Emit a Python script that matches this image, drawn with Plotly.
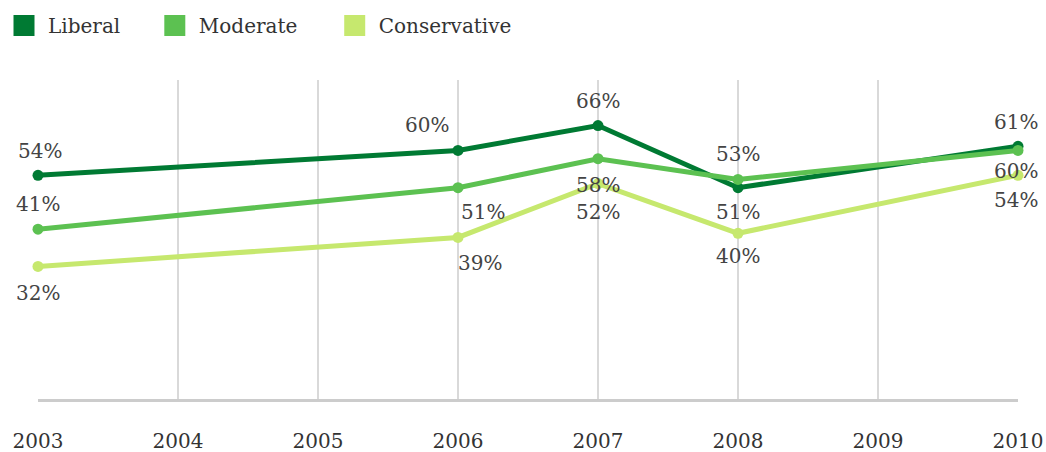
import plotly.graph_objects as go

years = [2003, 2006, 2007, 2008, 2010]
tick_years = [2003, 2004, 2005, 2006, 2007, 2008, 2009, 2010]
liberal = [54, 60, 66, 51, 61]
moderate = [41, 51, 58, 53, 60]
conservative = [32, 39, 52, 40, 54]

series = [
    ("Liberal", liberal, "#007a33"),
    ("Moderate", moderate, "#5cc151"),
    ("Conservative", conservative, "#c6e86e"),
]
# label placement (xshift, yshift) per point
label_shift = {
    "Liberal": [(2, 24), (-31, 25), (0, 25), (0, -24), (-2, 24)],
    "Moderate": [(0, 25), (25, -24), (0, -26), (0, 25), (-2, -21)],
    "Conservative": [(0, -27), (22, -26), (0, -28), (0, -23), (-2, -25)],
}
legend_x = [-4 / 1046, 0.148 - 4 / 1046, 0.320 - 4 / 1046]

FONT = "DejaVu Serif"
fig = go.Figure()
annotations = []
for name, vals, col in series:
    fig.add_trace(go.Scatter(
        x=years, y=vals, mode="lines+markers", name=name,
        line=dict(color=col, width=5), marker=dict(color=col, size=11),
        cliponaxis=False, showlegend=False,
    ))
    for (xv, yv, (dx, dy)) in zip(years, vals, label_shift[name]):
        annotations.append(dict(
            x=xv, y=yv, xref="x", yref="y", text=f"{yv}%", showarrow=False,
            xshift=dx, yshift=dy, font=dict(family=FONT, size=20, color="#444444"),
        ))
# legend entries as square swatches, one legend each
legend_layout = {}
for i, (name, vals, col) in enumerate(series):
    lname = "legend" if i == 0 else f"legend{i+1}"
    fig.add_trace(go.Scatter(
        x=[None], y=[None], mode="markers", name=name, legend=lname,
        marker=dict(color=col, size=16, symbol="square", line=dict(color=col, width=7)),
        showlegend=True,
    ))
    legend_layout[lname] = dict(
        orientation="h", x=legend_x[i], y=1.0 - 6 / 452, xref="container", yref="container",
        xanchor="left", yanchor="top", bgcolor="rgba(0,0,0,0)",
        font=dict(family=FONT, size=20, color="#333333"),
        itemsizing="trace", itemwidth=38,
    )

fig.update_layout(
    width=1046, height=452,
    margin=dict(l=38, r=28, t=80, b=53, autoexpand=False),
    paper_bgcolor="white", plot_bgcolor="white",
    font=dict(family=FONT, size=20, color="#333333"),
    annotations=annotations,
    xaxis=dict(range=[2003, 2010], tickvals=tick_years, ticktext=[str(t) for t in tick_years],
               showgrid=True, gridcolor="#d9d9d9", gridwidth=1.5,
               showline=True, linecolor="#cccccc", linewidth=3,
               zeroline=False, ticks="", ticklabelstandoff=22,
               tickfont=dict(family=FONT, size=20, color="#333333")),
    yaxis=dict(range=[0, 77], showgrid=False, showticklabels=False, zeroline=False,
               showline=False, ticks=""),
    **legend_layout,
)
fig.write_html("out.html", config={"displayModeBar": False},
               post_script="document.body.style.margin='0';document.body.style.overflow='hidden';")
